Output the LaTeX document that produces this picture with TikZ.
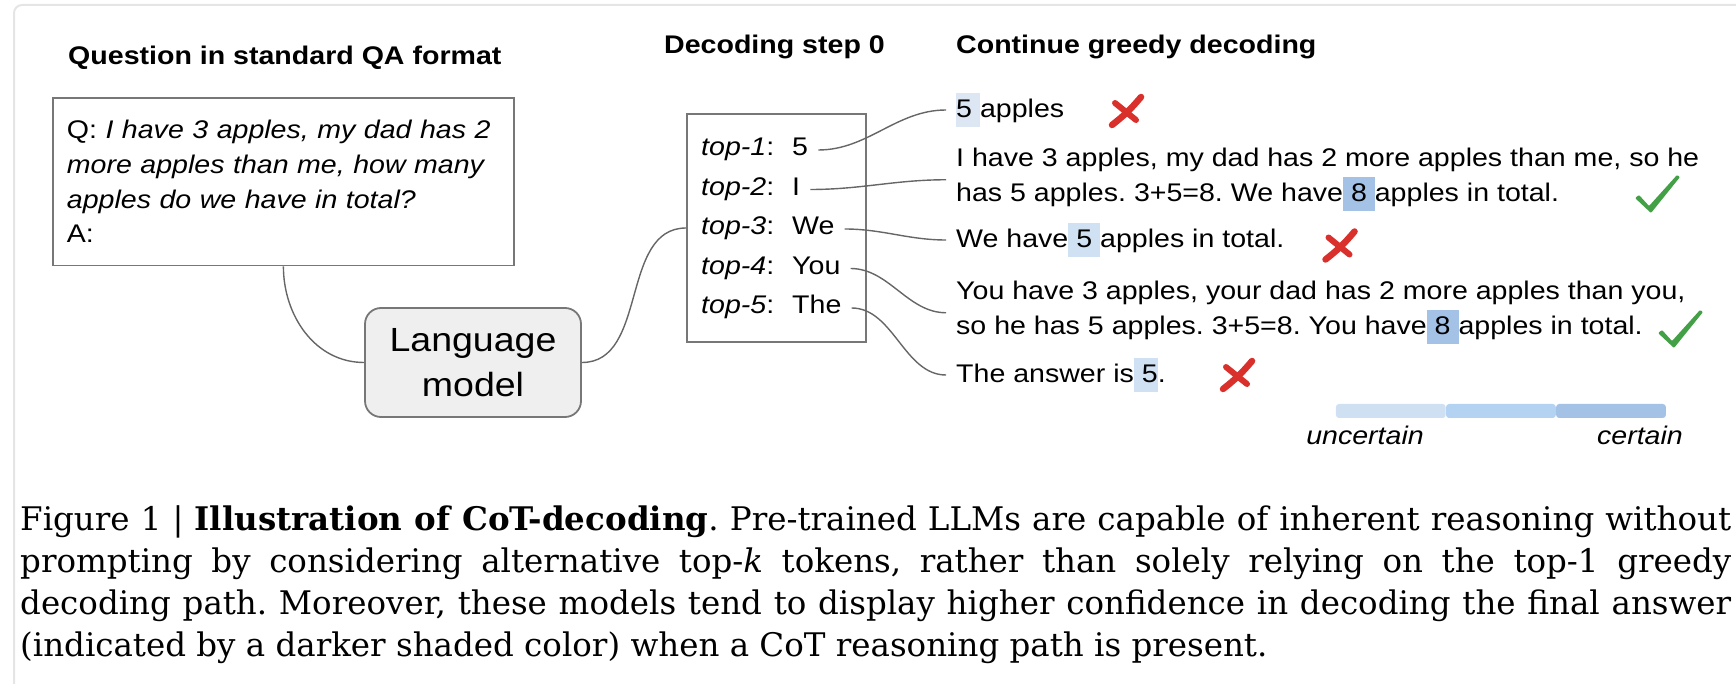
\documentclass[tikz,border=0pt]{standalone}
\usepackage{fontspec}
\setmainfont{Liberation Sans}[FakeStretch=1.12]
\newfontfamily\capfont{DejaVu Serif}
\usetikzlibrary{positioning}
\frenchspacing

\definecolor{linegray}{HTML}{666666}
\definecolor{boxgray}{HTML}{777777}
\definecolor{lmfill}{HTML}{EFEFEF}
\definecolor{hlA}{HTML}{DDE7F3}
\definecolor{hlB}{HTML}{CFE1F3}
\definecolor{hlC}{HTML}{A4C2E6}
\definecolor{barA}{HTML}{CFE0F2}
\definecolor{barB}{HTML}{B4D2F2}
\definecolor{barC}{HTML}{A3C2E5}
\definecolor{xred}{HTML}{D9302C}
\definecolor{tickgreen}{HTML}{43A047}

% shaded answer token
\newcommand{\hl}[2]{{\setlength{\fboxsep}{0pt}\colorbox{#1}{\rule[-9pt]{0pt}{34pt}#2}}}

\tikzset{
  xmark/.pic={
    \draw[xred,line width=6.5pt,line cap=round] (15,14) to[bend left=6] (-14,-14);
    \draw[xred,line width=6pt,line cap=round] (-11,8) -- (10,-9);
  },
  tickmark/.pic={
    \fill[tickgreen,rounded corners=1pt]
      (-15,14) -- (-11,17) -- (-1,6) -- (27,37) -- (30,35) -- (1,-1) -- cycle;
  }
}

\begin{document}
\begin{tikzpicture}[x=1pt,y=1pt,
  txt/.style={font=\fontsize{25.5}{34.7}\selectfont,inner sep=0pt},
  head/.style={font=\bfseries\fontsize{25.5}{30}\selectfont,inner sep=0pt,anchor=base west},
  qbox/.style={txt,draw=boxgray,line width=1.8pt,text width=433pt,align=left,
    inner xsep=14pt,inner ysep=22.5pt},
  lmbox/.style={draw=boxgray,fill=lmfill,line width=1.8pt,rounded corners=16pt,
    minimum width=216pt,minimum height=109pt,align=center,font=\fontsize{33.5}{45}\selectfont},
  decbox/.style={draw=boxgray,line width=1.8pt,minimum width=179pt,minimum height=228pt},
  row/.style={txt,anchor=base west,text height=18pt,text depth=6pt},
  ans/.style={txt,anchor=base west,align=left,font=\fontsize{25.5}{35}\selectfont},
  link/.style={draw=linegray,line width=1.4pt},
  toklink/.style={link,shorten <=10pt,shorten >=10pt},
  seg/.style={minimum width=109.7pt,minimum height=14pt,inner sep=0pt,rounded corners=3pt},
  legend/.style={inner sep=0pt,font=\itshape\fontsize{25.5}{30}\selectfont}
]
\useasboundingbox (0,0) rectangle (1736,683);
% faint page frame
\draw[black!10,line width=2pt,rounded corners=8pt] (14,-5) -- (14,678) -- (1740,678);

% column heads
\node[head] (hq) at (68,618) {Question in standard QA format};
\node[head] (hd) at (664,629) {Decoding step 0};
\node[head] (hc) at (956,629) {Continue greedy decoding};

% question and model
\node[qbox,anchor=north west] (q) at (52,586)
  {Q: \textit{I have 3 apples, my dad has 2}\\
   \textit{more apples than me, how many}\\
   \textit{apples do we have in total?}\\
   A:};
\node[lmbox] (lm) at (473,320.5) {Language\\model};
\node[decbox] (dec) at (776.5,455) {};
\draw[link] (q) to[out=-90,in=180] (lm);
\draw[link] (lm) to[out=0,in=180] (dec);

% greedy continuations (two-line nodes sit on their last line)
\node[ans] (a1) at (956,565) {\hl{hlA}{5\ }apples};
\node[ans] (a2) at (956,481) {I have 3 apples, my dad has 2 more apples than me, so he\\
  has 5 apples. 3+5=8. We have\hl{hlC}{\ 8\ }apples in total.};
\node[ans] (a3) at (956,435) {We have\hl{hlB}{\ 5\ }apples in total.};
\node[ans] (a4) at (956,348) {You have 3 apples, your dad has 2 more apples than you,\\
  so he has 5 apples. 3+5=8. You have\hl{hlC}{\ 8\ }apples in total.};
\node[ans] (a5) at (956,300) {The answer is\hl{hlB}{\ 5}.};

% top-k tokens at step 0
\foreach \k/\tok/\y in {1/5/527,2/I/487.5,3/We/448,4/You/408.5,5/The/369}{
  \node[row] (r\k) at (701,\y) {\makebox[91pt][l]{\textit{top-\k}:}\tok};
  \draw[toklink] (r\k) to[out=0,in=180] (a\k);
}

% right / wrong marks
\pic at (1126,572) {xmark};
\pic at (1339.5,437.5) {xmark};
\pic at (1237,308) {xmark};
\pic at (1650,471) {tickmark};
\pic at (1673,336) {tickmark};

% confidence scale
\node[seg,fill=barA] (b1) at (1390.8,272) {};
\node[seg,fill=barB,right=0pt of b1] (b2) {};
\node[seg,fill=barC,right=0pt of b2] (b3) {};
\node[legend,anchor=base] (lu) at (1365,238) {uncertain};
\node[legend,anchor=base east] (lc) at (1683,238) {certain};

% caption
\node[anchor=base west,inner sep=0pt,text width=1711pt,align=justify,
  font=\capfont\fontsize{32.5}{42}\selectfont] (cap) at (20,153)
  {\hyphenpenalty=10000\exhyphenpenalty=10000\noindent
   Figure 1 | \textbf{Illustration of CoT-decoding}. Pre-trained LLMs are capable of inherent reasoning without\linebreak
   prompting by considering alternative top-\textit{k} tokens, rather than solely relying on the top-1 greedy\linebreak
   decoding path. Moreover, these models tend to display higher confidence in decoding the final answer\linebreak
   (indicated by a darker shaded color) when a CoT reasoning path is present.};
\end{tikzpicture}
\end{document}
